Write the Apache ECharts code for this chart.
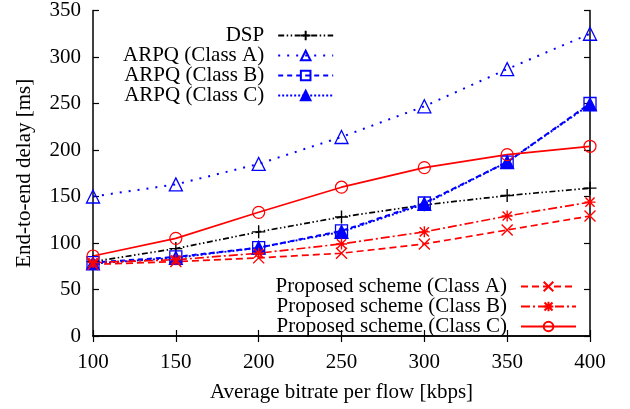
<!DOCTYPE html>
<html>
<head>
<meta charset="utf-8">
<script src="https://cdn.jsdelivr.net/npm/echarts@6/dist/echarts.min.js"></script>
<style>html,body{margin:0;padding:0;background:#fff}#c{width:630px;height:409px}</style>
</head>
<body>
<div id="c"></div>
<script>
const bitrates = [100, 150, 200, 250, 300, 350, 400];
const dsp   = [80, 94, 112, 128, 141, 151, 159];
const arpqA = [150, 163, 185, 214, 247, 287, 325];
const arpqB = [79, 85, 95, 113, 143, 187, 250];
const arpqC = [78, 84, 95, 112, 142, 187, 249];
const propA = [77, 80, 84, 89, 99, 114, 129];
const propB = [79, 82, 89, 99, 112, 129, 144];
const propC = [86, 105, 133, 160, 181, 195, 204];
const names = ['DSP', 'ARPQ (Class A)', 'ARPQ (Class B)', 'ARPQ (Class C)',
  'Proposed scheme (Class A)', 'Proposed scheme (Class B)', 'Proposed scheme (Class C)'];

const FONT = 'Liberation Serif';
const BLUE = '#0000ff', RED = '#ff0000', BLACK = '#000000';
const pair = arr => bitrates.map((b, i) => [b, arr[i]]);

const PLUS = 'path://M0,5 L10,5 M5,0 L5,10';
const CROSS = 'path://M0,0 L10,10 M10,0 L0,10';
const STAR = 'path://M0,0 L10,10 M10,0 L0,10 M5,-1 L5,11 M-1,5 L11,5';

function mk(name, data, color, dash, symbol, size, filled, stroke, lw) {
  return {
    name, type: 'line', data: pair(data), xAxisIndex: 0, yAxisIndex: 0,
    symbol, symbolSize: size, showSymbol: true, animation: false,
    lineStyle: { color, width: lw || 1.7, type: dash },
    itemStyle: { color: filled ? color : 'rgba(0,0,0,0)', borderColor: color, borderWidth: stroke || 1.2 },
    emphasis: { disabled: true }
  };
}

const series = [
  mk(names[0], dsp, BLACK, [6, 2.5, 1.5, 2.5, 1.5, 2.5], PLUS, 13, false, 1.4, 1.7),
  mk(names[1], arpqA, BLUE, [2, 7], 'triangle', 13, false, 1.3, 2),
  mk(names[2], arpqB, BLUE, [5, 4], 'rect', 12, false, 1.3, 2),
  mk(names[3], arpqC, BLUE, [2, 2], 'triangle', 13, true, 1.2, 2),
  mk(names[4], propA, RED, [7, 4], CROSS, 11, false, 1.4, 1.7),
  mk(names[5], propB, RED, [9, 3, 2, 3], STAR, 11, false, 1.4, 1.7),
  mk(names[6], propC, RED, 'solid', 'circle', 12, false, 1.2, 1.7)
];

const txt = { fontFamily: FONT, fontSize: 21, color: '#000' };
const axLine = { show: true, lineStyle: { color: '#000', width: 1.5 } };
const tick = { show: true, inside: true, length: 6, lineStyle: { color: '#000', width: 1.2 } };

const option = {
  backgroundColor: '#fff',
  animation: false,
  grid: { left: 93, right: 40, top: 7, bottom: 73 },
  xAxis: [
    { type: 'value', min: 100, max: 400, interval: 50, position: 'bottom',
      axisLine: axLine, axisTick: tick, splitLine: { show: false },
      axisLabel: Object.assign({ margin: 16 }, txt),
      name: 'Average bitrate per flow [kbps]', nameLocation: 'middle', nameGap: 46,
      nameTextStyle: txt },
    { type: 'value', min: 100, max: 400, interval: 50, position: 'top',
      axisLine: axLine, axisTick: tick, splitLine: { show: false }, axisLabel: { show: false } }
  ],
  yAxis: [
    { type: 'value', min: 0, max: 350, interval: 50, position: 'left',
      axisLine: axLine, axisTick: tick, splitLine: { show: false },
      axisLabel: Object.assign({ margin: 12 }, txt),
      name: 'End-to-end delay [ms]', nameLocation: 'middle', nameGap: 58,
      nameTextStyle: txt },
    { type: 'value', min: 0, max: 350, interval: 50, position: 'right',
      axisLine: axLine, axisTick: tick, splitLine: { show: false }, axisLabel: { show: false } }
  ],
  legend: [
    { data: names.slice(0, 4), orient: 'vertical', left: 118, top: 20, align: 'right',
      itemWidth: 55, itemHeight: 12, itemGap: -1, selectedMode: false,
      textStyle: Object.assign({ width: 140, align: 'right', lineHeight: 19, padding: [0, 9, 0, 0] }, txt) },
    { data: names.slice(4), orient: 'vertical', left: 270, top: 271, align: 'right',
      itemWidth: 55, itemHeight: 12, itemGap: -1, selectedMode: false,
      textStyle: Object.assign({ width: 232, align: 'right', lineHeight: 19, padding: [0, 9, 0, 0] }, txt) }
  ],
  series
};

const chart = echarts.init(document.getElementById('c'), null, { renderer: 'canvas' });
chart.setOption(option);
</script>
</body>
</html>
